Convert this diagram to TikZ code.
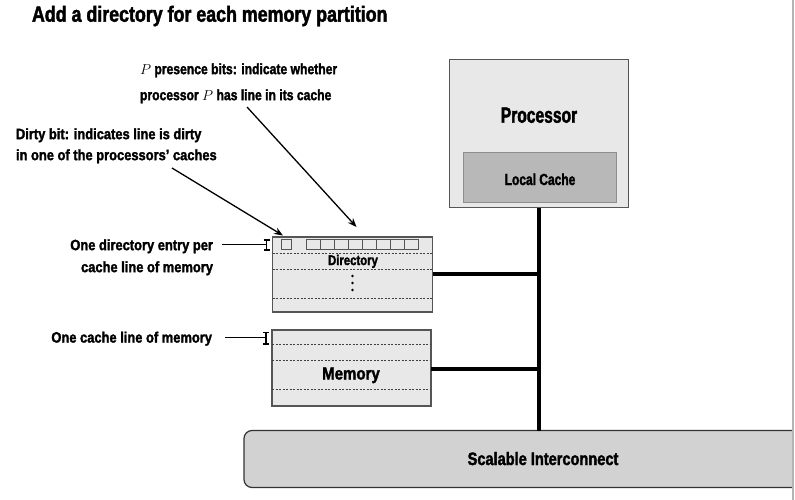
\documentclass[tikz,border=0pt]{standalone}
\usepackage{fontspec}
\setmainfont{Liberation Sans}[FakeStretch=0.8]
\newfontfamily\fT{Liberation Sans}[FakeStretch=0.81, FakeBold=1.8]
\newfontfamily\fL{Liberation Sans}[FakeStretch=0.86, FakeBold=1.8]
\newfontfamily\fP{Liberation Sans}[FakeStretch=0.71, FakeBold=1.8]
\newfontfamily\fC{Liberation Sans}[FakeStretch=0.75, FakeBold=1.8]
\usetikzlibrary{arrows.meta,calc}
\definecolor{boxfill}{HTML}{E8E8E8}
\definecolor{boxline}{HTML}{555555}
\definecolor{cachefill}{HTML}{B8B8B8}
\definecolor{cacheline}{HTML}{8E8E8E}
\definecolor{busfill}{HTML}{D2D2D2}
\definecolor{edgegrey}{HTML}{B4B4B4}
\newcommand{\fs}[2]{\fontsize{#1}{#2}\selectfont}
\begin{document}
\begin{tikzpicture}[x=1pt,y=-1pt,
  every node/.style={inner sep=0pt, outer sep=0pt},
  lbl/.style={font=\fL\bfseries\fs{15}{22}, text=black},
  unitbox/.style={draw=boxline, line width=1.2pt, fill=boxfill},
  bitbox/.style={draw=boxline, line width=0.9pt, minimum width=10pt, minimum height=10pt},
  dashrow/.style={draw=black!75, line width=0.8pt, dash pattern=on 2pt off 1.5pt},
  bus/.style={line width=4pt, black},
  pointer/.style={line width=1.3pt, -{Stealth[length=9pt,width=7pt]}},
  leader/.style={line width=1.3pt},
  bracket/.style={line width=1.3pt}]

\useasboundingbox (0,0) rectangle (795,500);
\fill[white] (0,0) rectangle (795,500);

% title
\node[anchor=base west, font=\fT\bfseries\fs{22}{26}] (title) at (32,21.7) {Add a directory for each memory partition};

% processor
\node[unitbox, minimum width=179pt, minimum height=148pt, anchor=north west] (proc) at (449.5,59.5) {};
\node[anchor=base, font=\fP\bfseries\fs{22}{26}] (proclbl) at (539,122.7) {Processor};
\node[draw=cacheline, fill=cachefill, line width=1pt, minimum width=153pt, minimum height=50pt, anchor=north west] (cache) at (463.5,152.5) {};
\node[anchor=base, font=\fC\bfseries\fs{16}{20}] (cachelbl) at (540,185) {Local Cache};

% interconnect
\begin{scope}
\clip (0,0) rectangle (793,500);
\node[draw=black!80, fill=busfill, line width=1.2pt, rounded corners=8pt, minimum width=580pt, minimum height=57pt, anchor=north west] (inter) at (244,430.5) {};
\end{scope}
\node[anchor=base, font=\fT\bfseries\fs{18}{22}] (interlbl) at (543,465) {Scalable Interconnect};

% directory
\node[unitbox, minimum width=160pt, minimum height=75pt, anchor=north west] (dir) at (272.5,237) {};
\foreach \yy in {253,269,298} \draw[dashrow] (dir.west |- 0,\yy) -- (dir.east |- 0,\yy);
\node[anchor=base, font=\fT\bfseries\fs{14}{16}] (dirlbl) at (353,265) {Directory};
\foreach \yy in {276,283,290} \fill (352.5,\yy) circle (1.4pt);
\node[bitbox] (dbit) at (286.5,244) {};
\foreach \i in {1,...,8} \node[bitbox, minimum width=14pt] (pb\i) at ({306+14*(\i-1)+7},244) {};

% memory
\node[unitbox, minimum width=159pt, minimum height=76pt, anchor=north west] (mem) at (272,330) {};
\foreach \yy in {344.5,360,389.5} \draw[dashrow] (mem.west |- 0,\yy) -- (mem.east |- 0,\yy);
\node[anchor=base, font=\fL\bfseries\fs{17.5}{20}] (memlbl) at (351,379.5) {Memory};

% bus
\coordinate (tap1) at (proc.south |- 0,273.5);
\coordinate (tap2) at (proc.south |- 0,369);
\draw[bus] (proc.south) -- (proc.south |- inter.north);
\draw[bus] (dir.east |- tap1) -- (tap1);
\draw[bus] (mem.east |- tap2) -- (tap2);

% left labels with brackets
\node[lbl, anchor=north east, align=right] (entrylbl) at (213,239.3) {One directory entry per\\cache line of memory};
\node[lbl, anchor=north east] (linelbl) at (212,331.7) {One cache line of memory};
\coordinate (brA) at (266.5,244.5);
\coordinate (leadA) at (222,244.5);
\draw[bracket] (266.5,240) -- (266.5,250) (263.5,240) -- (269.5,240) (263.5,250) -- (269.5,250);
\draw[leader] (leadA) -- (brA);
\coordinate (brB) at (266,337.5);
\coordinate (leadB) at (225,337.5);
\draw[bracket] (266,332.5) -- (266,344) (263,332.5) -- (269,332.5) (263,344) -- (269,344);
\draw[leader] (leadB) -- (brB);

% top labels with pointers
\node[lbl, anchor=north west, align=left, font=\fL\bfseries\fs{15}{21}] (dirtylbl) at (16,128.3) {Dirty bit: indicates line is dirty\\in one of the processors’ caches};
\node[lbl, anchor=north west, align=left, font=\fT\bfseries\fs{15}{26}] (preslbl) at (140,63.3) {$P$ presence bits: indicate whether\\processor $P$ has line in its cache};
\coordinate (dtail) at (172,168);
\coordinate (dhead) at (283,235.5);
\draw[pointer] (dtail) -- (dhead);
\coordinate (ptail) at (247,107);
\coordinate (phead) at (356.5,227);
\draw[pointer] (ptail) -- (phead);

% slide edge
\draw[edgegrey, line width=2pt] (793.3,0) -- (793.3,500);
\end{tikzpicture}
\end{document}
